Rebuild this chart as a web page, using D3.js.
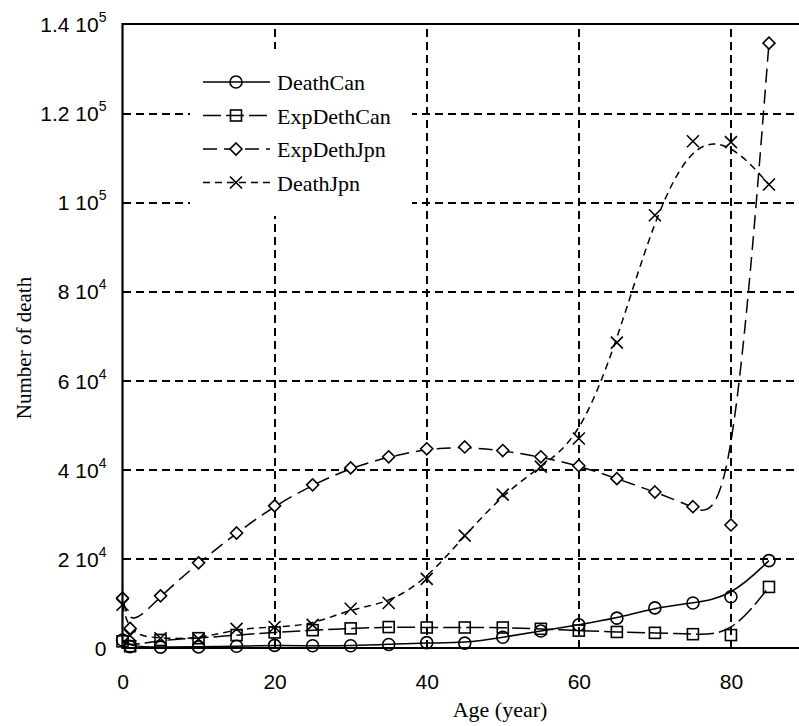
<!DOCTYPE html>
<html>
<head>
<meta charset="utf-8">
<script src="https://cdn.jsdelivr.net/npm/d3@7"></script>
<style>
  body { margin: 0; background: #fff; }
  svg { display: block; overflow: hidden; }
</style>
</head>
<body>
<script>
// ages (x) and the four series
var ages       = [0, 1, 5, 10, 15, 20, 25, 30, 35, 40, 45, 50, 55, 60, 65, 70, 75, 80, 85];
var deathCan   = [1800, 300, 200, 250, 400, 600, 500, 500, 800, 1200, 1100, 2400, 3800, 5200, 6700, 9000, 10100, 11500, 19600];
var expDethCan = [1500, 400, 1800, 2200, 2900, 3500, 4000, 4400, 4700, 4600, 4600, 4600, 4300, 3900, 3600, 3400, 3100, 2900, 13700];
var expDethJpn = [11200, 4400, 11700, 19100, 25800, 31900, 36600, 40400, 42900, 44700, 45100, 44300, 42900, 40900, 38000, 35000, 31700, 27600, 135700];
var deathJpn   = [9700, 2800, 2200, 2000, 4300, 4700, 5200, 8800, 10100, 15500, 25200, 34400, 40700, 47000, 68500, 97100, 113700, 113500, 104000];

var seriesNames = ["DeathCan", "ExpDethCan", "ExpDethJpn", "DeathJpn"];

var xTicks = [0, 20, 40, 60, 80];
var yTicks = [0, 20000, 40000, 60000, 80000, 100000, 120000, 140000];
var yTickMantissa = ["0", "2", "4", "6", "8", "1", "1.2", "1.4"];
var yTickExponent = ["", "4", "4", "4", "4", "5", "5", "5"];

var width = 799, height = 726;
var plotL = 122.5, plotT = 24, plotR = 807, plotB = 648;

var svg = d3.select("body").append("svg")
    .attr("width", width)
    .attr("height", height);

var x = d3.scaleLinear().domain([0, 90]).range([plotL, plotR]);
var y = d3.scaleLinear().domain([0, 140000]).range([plotB, plotT]);

// dashed grid
var xGrid = svg.append("g")
    .attr("transform", "translate(0," + plotB + ")")
    .call(d3.axisBottom(x).tickValues(xTicks.slice(1)).tickSize(-(plotB - plotT)).tickFormat(""));
xGrid.select(".domain").remove();
xGrid.selectAll("line").attr("stroke", "#000").attr("stroke-width", 2)
    .attr("shape-rendering", "crispEdges").attr("stroke-dasharray", "8,5");

var yGrid = svg.append("g")
    .attr("transform", "translate(" + plotL + ",0)")
    .call(d3.axisLeft(y).tickValues(yTicks.slice(1, -1)).tickSize(-(plotR - plotL)).tickFormat(""));
yGrid.select(".domain").remove();
yGrid.selectAll("line").attr("stroke", "#000").attr("stroke-width", 2)
    .attr("shape-rendering", "crispEdges").attr("stroke-dasharray", "8,5");

// tick labels
var xAxis = svg.append("g")
    .attr("transform", "translate(0," + plotB + ")")
    .call(d3.axisBottom(x).tickValues(xTicks).tickSize(0).tickPadding(26));
xAxis.select(".domain").remove();
xAxis.selectAll("text")
    .attr("font-family", "Liberation Sans, Arial, sans-serif")
    .attr("font-size", 21)
    .attr("fill", "#000");

var yAxis = svg.append("g")
    .attr("transform", "translate(" + plotL + ",0)")
    .call(d3.axisLeft(y).tickValues(yTicks).tickSize(0).tickPadding(16).tickFormat(""));
yAxis.select(".domain").remove();
yAxis.selectAll(".tick text").each(function (d, i) {
    var t = d3.select(this)
        .attr("font-family", "Liberation Sans, Arial, sans-serif")
        .attr("font-size", 21)
        .attr("fill", "#000")
        .attr("dy", "0.36em");
    if (yTickExponent[i] === "") {
        t.text(yTickMantissa[i]);
    } else {
        t.append("tspan").text(yTickMantissa[i] + " 10");
        t.append("tspan").attr("font-size", 14).attr("dy", -10).text(yTickExponent[i]);
    }
});

// axis titles
svg.append("text")
    .attr("x", 500).attr("y", 717)
    .attr("text-anchor", "middle")
    .attr("font-family", "Liberation Serif, Times New Roman, serif")
    .attr("font-size", 22)
    .text("Age (year)");

svg.append("text")
    .attr("transform", "translate(31,348) rotate(-90)")
    .attr("text-anchor", "middle")
    .attr("font-family", "Liberation Serif, Times New Roman, serif")
    .attr("font-size", 21)
    .text("Number of death");

// legend background hides the grid behind it
svg.append("rect")
    .attr("x", 190).attr("y", 49).attr("width", 222).attr("height", 167)
    .attr("fill", "#fff");

// series styles
var styles = {
    DeathCan:   { values: deathCan,   dash: null,    marker: "circle" },
    ExpDethCan: { values: expDethCan, dash: "18,5",  marker: "square" },
    ExpDethJpn: { values: expDethJpn, dash: "14,7",  marker: "diamond" },
    DeathJpn:   { values: deathJpn,   dash: "7,5",   marker: "cross" }
};

function drawMarker(g, type, cx, cy) {
    var s = 6;
    if (type === "circle") {
        g.append("circle").attr("cx", cx).attr("cy", cy).attr("r", s)
            .attr("fill", "none").attr("stroke", "#000").attr("stroke-width", 1.6);
    } else if (type === "square") {
        g.append("rect").attr("x", cx - 5.5).attr("y", cy - 5.5).attr("width", 11).attr("height", 11)
            .attr("fill", "none").attr("stroke", "#000").attr("stroke-width", 1.6);
    } else if (type === "diamond") {
        g.append("path")
            .attr("d", "M" + cx + "," + (cy - s) + "L" + (cx + s) + "," + cy + "L" + cx + "," + (cy + s) + "L" + (cx - s) + "," + cy + "Z")
            .attr("fill", "#fff").attr("stroke", "#000").attr("stroke-width", 1.6);
    } else {
        g.append("path")
            .attr("d", "M" + (cx - s) + "," + (cy - s) + "L" + (cx + s) + "," + (cy + s) +
                       "M" + (cx - s) + "," + (cy + s) + "L" + (cx + s) + "," + (cy - s))
            .attr("fill", "none").attr("stroke", "#000").attr("stroke-width", 1.6);
    }
}

var line = d3.line()
    .x(function (d) { return x(d[0]); })
    .y(function (d) { return y(d[1]); })
    .curve(d3.curveBasis);

// curves
seriesNames.forEach(function (name) {
    var st = styles[name];
    var pts = ages.map(function (a, i) { return [a, st.values[i]]; });
    svg.append("path")
        .datum(pts)
        .attr("d", line)
        .attr("fill", "none")
        .attr("stroke", "#000")
        .attr("stroke-width", 1.5)
        .attr("stroke-dasharray", st.dash);
});

// markers
seriesNames.forEach(function (name) {
    var st = styles[name];
    var g = svg.append("g");
    ages.forEach(function (a, i) {
        drawMarker(g, st.marker, x(a), y(st.values[i]));
    });
});

// legend
var legend = svg.append("g");
seriesNames.forEach(function (name, i) {
    var st = styles[name];
    var ly = 82 + i * 33.5;
    legend.append("line")
        .attr("x1", 203).attr("x2", 270).attr("y1", ly).attr("y2", ly)
        .attr("stroke", "#000").attr("stroke-width", 1.5)
        .attr("stroke-dasharray", st.dash);
    drawMarker(legend, st.marker, 236, ly);
    legend.append("text")
        .attr("x", 277).attr("y", ly + 8)
        .attr("font-family", "Liberation Serif, Times New Roman, serif")
        .attr("font-size", 22)
        .text(name);
});

// frame: top, left, bottom
svg.append("path")
    .attr("d", "M" + plotR + "," + plotT + "H" + plotL + "V" + plotB + "H" + plotR)
    .attr("fill", "none")
    .attr("stroke", "#000")
    .attr("stroke-width", 2.2);
</script>
</body>
</html>
